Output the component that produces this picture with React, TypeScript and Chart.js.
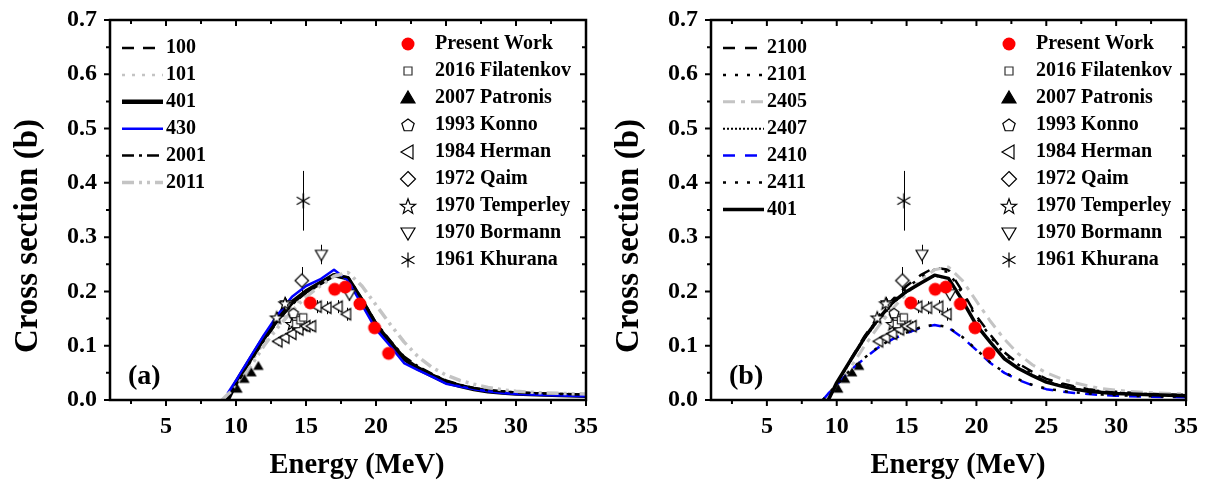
import React, { useEffect, useRef } from 'react';
import { Chart, registerables } from 'chart.js';

Chart.register(...registerables);

const FONT = "'Liberation Serif', 'Times New Roman', Times, serif";

// ---------- axes ----------
const xMajorTicks = [5, 10, 15, 20, 25, 30, 35];
const xMinorTicks = [2.5, 7.5, 12.5, 17.5, 22.5, 27.5, 32.5];
const yMajorTicks = [0, 0.1, 0.2, 0.3, 0.4, 0.5, 0.6, 0.7];
const yMinorTicks = [0.05, 0.15, 0.25, 0.35, 0.45, 0.55, 0.65];
const xTitle = 'Energy (MeV)';
const yTitle = 'Cross section (b)';

// ---------- model curves ----------
const energyGrid = [9.0, 9.4, 10, 11, 12, 13, 14, 15, 16, 17, 18, 19, 20, 21, 22, 23, 24, 25, 26, 27, 28, 29, 30, 32, 35];

// panel (a)
const curve100 = [null, 0.0, 0.03, 0.072, 0.112, 0.148, 0.178, 0.2, 0.215, 0.228, 0.225, 0.185, 0.14, 0.108, 0.078, 0.06, 0.047, 0.035, 0.027, 0.021, 0.017, 0.015, 0.013, 0.011, 0.009];
const curve101 = [null, 0.0, 0.026, 0.066, 0.105, 0.14, 0.17, 0.195, 0.212, 0.228, 0.226, 0.186, 0.14, 0.108, 0.078, 0.06, 0.047, 0.035, 0.028, 0.022, 0.018, 0.015, 0.013, 0.011, 0.01];
const curve401 = [null, 0.0, 0.032, 0.074, 0.115, 0.15, 0.18, 0.2, 0.215, 0.23, 0.224, 0.183, 0.138, 0.106, 0.076, 0.058, 0.045, 0.033, 0.026, 0.02, 0.016, 0.014, 0.012, 0.01, 0.008];
const curve430 = [null, 0.012, 0.036, 0.078, 0.12, 0.158, 0.19, 0.21, 0.222, 0.24, 0.22, 0.175, 0.13, 0.1, 0.068, 0.055, 0.043, 0.03, 0.025, 0.02, 0.016, 0.013, 0.011, 0.009, 0.007];
const curve2001 = [null, 0.0, 0.028, 0.07, 0.11, 0.146, 0.176, 0.198, 0.214, 0.23, 0.226, 0.186, 0.142, 0.11, 0.08, 0.062, 0.048, 0.036, 0.028, 0.022, 0.018, 0.016, 0.014, 0.012, 0.01];
const curve2011 = [0.0, 0.01, 0.024, 0.06, 0.1, 0.134, 0.164, 0.19, 0.21, 0.228, 0.235, 0.21, 0.175, 0.14, 0.107, 0.08, 0.06, 0.046, 0.036, 0.029, 0.023, 0.019, 0.016, 0.013, 0.011];

// panel (b)
const curve2100 = [null, 0.002, 0.03, 0.075, 0.118, 0.155, 0.185, 0.21, 0.23, 0.244, 0.24, 0.2, 0.155, 0.12, 0.088, 0.067, 0.052, 0.039, 0.031, 0.025, 0.02, 0.017, 0.015, 0.012, 0.009];
const curve2101 = [null, 0.002, 0.03, 0.074, 0.116, 0.152, 0.182, 0.206, 0.226, 0.24, 0.236, 0.196, 0.152, 0.117, 0.085, 0.065, 0.05, 0.038, 0.03, 0.024, 0.019, 0.016, 0.014, 0.011, 0.009];
const curve2405 = [0.0, 0.006, 0.022, 0.06, 0.1, 0.136, 0.168, 0.196, 0.22, 0.24, 0.245, 0.22, 0.182, 0.145, 0.112, 0.085, 0.065, 0.05, 0.04, 0.032, 0.026, 0.021, 0.018, 0.014, 0.011];
const curve2407 = [null, 0.001, 0.03, 0.072, 0.113, 0.148, 0.178, 0.199, 0.215, 0.229, 0.224, 0.184, 0.139, 0.107, 0.077, 0.059, 0.046, 0.034, 0.027, 0.021, 0.017, 0.015, 0.013, 0.01, 0.008];
const curve2410 = [0.0, 0.012, 0.028, 0.055, 0.077, 0.097, 0.112, 0.123, 0.133, 0.138, 0.133, 0.115, 0.092, 0.068, 0.05, 0.037, 0.027, 0.02, 0.016, 0.013, 0.011, 0.009, 0.008, 0.006, 0.005];
const curve2411 = [0.0, 0.012, 0.028, 0.056, 0.078, 0.098, 0.113, 0.124, 0.134, 0.139, 0.134, 0.116, 0.093, 0.069, 0.051, 0.038, 0.028, 0.021, 0.017, 0.014, 0.012, 0.01, 0.009, 0.007, 0.006];

// ---------- experimental data ----------
const presentE = [15.3, 17.05, 17.8, 18.85, 19.9, 20.9];
const presentS = [0.179, 0.204, 0.208, 0.177, 0.133, 0.086];
const presentErr = [0.009, 0.009, 0.009, 0.008, 0.007, 0.005];

const filatenkovE = [14.3, 14.6, 14.8];
const filatenkovS = [0.14, 0.147, 0.152];

const patronisE = [10.1, 10.6, 11.1, 11.6];
const patronisS = [0.02, 0.038, 0.05, 0.062];

const konnoE = [14.1];
const konnoS = [0.16];

const hermanE = [13.0, 13.5, 14.0, 14.5, 15.0, 15.4, 15.8, 16.5, 17.3, 17.9];
const hermanS = [0.108, 0.115, 0.122, 0.13, 0.136, 0.136, 0.172, 0.17, 0.172, 0.158];
const hermanErr = [0.008, 0.008, 0.008, 0.009, 0.009, 0.009, 0.012, 0.012, 0.012, 0.012];

const qaimE = [14.7];
const qaimS = [0.22];
const qaimErr = [0.025];

const temperleyE = [12.9, 13.5, 14.0, 14.4, 14.8];
const temperleyS = [0.152, 0.178, 0.14, 0.133, 0.138];
const temperleyErr = [0.01, 0.012, 0.01, 0.01, 0.01];

const bormannE = [13.6, 14.2, 16.1, 18.1];
const bormannS = [0.175, 0.15, 0.268, 0.195];
const bormannErr = [0.012, 0.01, 0.018, 0.012];

const khuranaE = [14.8];
const khuranaS = [0.367];
const khuranaErr = [0.055];

type Sym = 'circle' | 'square' | 'triUp' | 'pentagon' | 'triLeft' | 'diamond' | 'star' | 'triDown' | 'asterisk';

function makeSymbol(kind: Sym, k: number): HTMLCanvasElement {
  const size = 20;
  const c = document.createElement('canvas');
  c.width = size;
  c.height = size;
  const g = c.getContext('2d')!;
  const m = size / 2;
  g.lineWidth = 1.2;
  g.strokeStyle = '#000';
  g.fillStyle = '#fff';
  const poly = (pts: number[][]) => {
    g.beginPath();
    pts.forEach(([px, py], i) => (i ? g.lineTo(m + px * k, m + py * k) : g.moveTo(m + px * k, m + py * k)));
    g.closePath();
  };
  switch (kind) {
    case 'circle':
      g.beginPath();
      g.arc(m, m, 6.5 * k, 0, Math.PI * 2);
      g.fillStyle = '#ff0000';
      g.fill();
      break;
    case 'square':
      poly([[-4, -4], [4, -4], [4, 4], [-4, 4]]);
      g.fill();
      g.strokeStyle = '#333';
      g.stroke();
      break;
    case 'triUp':
      poly([[0, -7], [7, 5], [-7, 5]]);
      g.fillStyle = '#000';
      g.fill();
      g.stroke();
      break;
    case 'pentagon': {
      const pts: number[][] = [];
      for (let i = 0; i < 5; i++) {
        const a = -Math.PI / 2 + (i * 2 * Math.PI) / 5;
        pts.push([6.5 * Math.cos(a), 6.5 * Math.sin(a) + 0.5]);
      }
      poly(pts);
      g.fill();
      g.stroke();
      break;
    }
    case 'triLeft':
      poly([[-7, 0], [5, -7], [5, 7]]);
      g.fill();
      g.stroke();
      break;
    case 'diamond':
      poly([[0, -7.5], [7.5, 0], [0, 7.5], [-7.5, 0]]);
      g.fill();
      g.stroke();
      break;
    case 'star': {
      const pts: number[][] = [];
      for (let i = 0; i < 10; i++) {
        const a = -Math.PI / 2 + (i * Math.PI) / 5;
        const r = i % 2 === 0 ? 8 : 3.3;
        pts.push([r * Math.cos(a), r * Math.sin(a) + 0.8]);
      }
      poly(pts);
      g.fill();
      g.stroke();
      break;
    }
    case 'triDown':
      poly([[-7, -5], [7, -5], [0, 7]]);
      g.fill();
      g.stroke();
      break;
    case 'asterisk':
      g.beginPath();
      for (let i = 0; i < 3; i++) {
        const a = Math.PI / 2 + (i * Math.PI) / 3;
        g.moveTo(m + 7.5 * k * Math.cos(a), m + 7.5 * k * Math.sin(a));
        g.lineTo(m - 7.5 * k * Math.cos(a), m - 7.5 * k * Math.sin(a));
      }
      g.stroke();
      break;
  }
  return c;
}

const toPoints = (xs: number[], ys: (number | null)[]) =>
  xs.map((x, i) => ({ x, y: ys[i] })).filter((p) => p.y !== null) as { x: number; y: number }[];

function lineSet(label: string, values: (number | null)[], color: string, width: number, dash: number[], order: number) {
  return {
    label,
    data: toPoints(energyGrid, values),
    showLine: true,
    borderColor: color,
    backgroundColor: color,
    borderWidth: width,
    borderDash: dash,
    borderJoinStyle: 'round',
    pointRadius: 0,
    tension: 0,
    order,
    legendKind: 'line',
  };
}

function pointSet(label: string, xs: number[], ys: number[], kind: Sym, plotScale: number, errors?: number[], errColor = '#000') {
  return {
    label,
    data: toPoints(xs, ys),
    showLine: false,
    pointStyle: makeSymbol(kind, plotScale),
    legendSymbol: makeSymbol(kind, 1),
    pointRadius: 7,
    order: 0,
    errors,
    errColor,
    legendKind: 'symbol',
  };
}

const decorPlugin = {
  id: 'panelDecor',
  beforeDatasetsDraw(chart: any) {
    const { ctx } = chart;
    const xs = chart.scales.x;
    const ys = chart.scales.y;
    ctx.save();
    ctx.lineWidth = 1;
    chart.data.datasets.forEach((d: any) => {
      if (!d.errors) return;
      ctx.strokeStyle = d.errColor;
      d.data.forEach((p: any, j: number) => {
        const e = d.errors[j];
        if (!e) return;
        const px = Math.round(xs.getPixelForValue(p.x)) + 0.5;
        ctx.beginPath();
        ctx.moveTo(px, ys.getPixelForValue(p.y - e));
        ctx.lineTo(px, ys.getPixelForValue(p.y + e));
        ctx.stroke();
      });
    });
    ctx.restore();
  },
  afterDraw(chart: any, _args: any, opts: any) {
    const { ctx, chartArea: a } = chart;
    const xs = chart.scales.x;
    const ys = chart.scales.y;
    ctx.save();
    ctx.setLineDash([]);
    ctx.strokeStyle = '#000';
    ctx.lineWidth = 2;
    const major = 6;
    const minor = 4;
    ctx.beginPath();
    xMajorTicks.forEach((v) => {
      const p = xs.getPixelForValue(v);
      ctx.moveTo(p, a.bottom);
      ctx.lineTo(p, a.bottom + major);
      ctx.moveTo(p, a.top);
      ctx.lineTo(p, a.top + major);
    });
    xMinorTicks.forEach((v) => {
      const p = xs.getPixelForValue(v);
      ctx.moveTo(p, a.bottom);
      ctx.lineTo(p, a.bottom + minor);
      ctx.moveTo(p, a.top);
      ctx.lineTo(p, a.top + minor);
    });
    yMajorTicks.forEach((v) => {
      const p = ys.getPixelForValue(v);
      ctx.moveTo(a.left, p);
      ctx.lineTo(a.left - major, p);
      ctx.moveTo(a.right, p);
      ctx.lineTo(a.right - major, p);
    });
    yMinorTicks.forEach((v) => {
      const p = ys.getPixelForValue(v);
      ctx.moveTo(a.left, p);
      ctx.lineTo(a.left - minor, p);
      ctx.moveTo(a.right, p);
      ctx.lineTo(a.right - minor, p);
    });
    ctx.stroke();
    ctx.lineWidth = 2.5;
    ctx.strokeRect(a.left, a.top, a.right - a.left, a.bottom - a.top);

    ctx.fillStyle = '#000';
    ctx.textAlign = 'center';
    ctx.textBaseline = 'middle';

    // axis titles
    ctx.font = `bold 28.5px ${FONT}`;
    ctx.fillText(xTitle, a.left + 247, 466);
    ctx.save();
    ctx.translate(a.left - 82, 236);
    ctx.rotate(-Math.PI / 2);
    ctx.font = `bold 33px ${FONT}`;
    ctx.fillText(yTitle, 0, 0);
    ctx.restore();

    // panel label
    ctx.textAlign = 'left';
    ctx.font = `bold 28px ${FONT}`;
    ctx.fillText(opts.label, a.left + 18, a.bottom - 23);

    // legends
    ctx.font = `bold 20px ${FONT}`;
    let li = 0;
    let si = 0;
    chart.data.datasets.forEach((d: any) => {
      if (d.legendKind === 'line') {
        const y = a.top + 28 + li * 26.9;
        li++;
        ctx.save();
        ctx.strokeStyle = d.borderColor;
        ctx.lineWidth = d.borderWidth;
        ctx.setLineDash(d.borderDash || []);
        ctx.beginPath();
        ctx.moveTo(a.left + 12, y);
        ctx.lineTo(a.left + 53, y);
        ctx.stroke();
        ctx.restore();
        ctx.fillText(d.label, a.left + 56, y);
      } else if (d.legendKind === 'symbol') {
        const y = a.top + 24 + si * 27;
        si++;
        const s = d.legendSymbol as HTMLCanvasElement;
        ctx.drawImage(s, a.left + 298 - s.width / 2, y - s.height / 2);
        ctx.fillText(d.label, a.left + 325, y);
      }
    });
    ctx.restore();
  },
};

function buildConfig(lines: any[], points: any[], label: string, axisLeft: number, rightPad: number) {
  return {
    type: 'scatter',
    data: { datasets: [...lines, ...points] },
    plugins: [decorPlugin],
    options: {
      animation: false,
      responsive: false,
      events: [],
      layout: { padding: { left: 0, top: 20, right: rightPad, bottom: 0 } },
      plugins: {
        legend: { display: false },
        tooltip: { enabled: false },
        panelDecor: { label },
      },
      scales: {
        x: {
          type: 'linear',
          min: 1,
          max: 35,
          grid: { display: false, drawTicks: false },
          border: { display: false },
          afterBuildTicks: (s: any) => {
            s.ticks = xMajorTicks.map((v) => ({ value: v }));
          },
          afterFit: (s: any) => {
            s.height = 84;
            s.paddingLeft = 0;
            s.paddingRight = 0;
          },
          ticks: {
            color: '#000',
            font: { family: FONT, size: 24, weight: 'bold' },
            padding: 12,
            maxRotation: 0,
            autoSkip: false,
          },
          title: { display: false },
        },
        y: {
          type: 'linear',
          min: 0,
          max: 0.7,
          grid: { display: false, drawTicks: false },
          border: { display: false },
          afterBuildTicks: (s: any) => {
            s.ticks = yMajorTicks.map((v) => ({ value: v }));
          },
          afterFit: (s: any) => {
            s.width = axisLeft;
            s.paddingTop = 0;
            s.paddingBottom = 0;
          },
          ticks: {
            color: '#000',
            font: { family: FONT, size: 24, weight: 'bold' },
            padding: 13,
            callback: (v: any) => Number(v).toFixed(1),
          },
          title: { display: false },
        },
      },
    },
  } as any;
}

function experimentalSets() {
  return [
    pointSet('Present Work', presentE, presentS, 'circle', 1, presentErr, '#ff0000'),
    pointSet('2016 Filatenkov', filatenkovE, filatenkovS, 'square', 0.9),
    pointSet('2007 Patronis', patronisE, patronisS, 'triUp', 0.6),
    pointSet('1993 Konno', konnoE, konnoS, 'pentagon', 0.8),
    pointSet('1984 Herman', hermanE, hermanS, 'triLeft', 0.8, hermanErr),
    pointSet('1972 Qaim', qaimE, qaimS, 'diamond', 0.9, qaimErr),
    pointSet('1970 Temperley', temperleyE, temperleyS, 'star', 0.8, temperleyErr),
    pointSet('1970 Bormann', bormannE, bormannS, 'triDown', 0.85, bormannErr),
    pointSet('1961 Khurana', khuranaE, khuranaS, 'asterisk', 1, khuranaErr),
  ];
}

const GRAY = '#c4c4c4';
const BLUE = '#0000ff';

function Panel({ which }: { which: 'a' | 'b' }) {
  const ref = useRef<HTMLCanvasElement | null>(null);
  useEffect(() => {
    if (!ref.current) return;
    let lines: any[];
    if (which === 'a') {
      lines = [
        lineSet('100', curve100, '#000', 2.5, [12, 9], 10),
        lineSet('101', curve101, GRAY, 2.5, [3, 7], 9),
        lineSet('401', curve401, '#000', 4.5, [], 8),
        lineSet('430', curve430, BLUE, 2.5, [], 7),
        lineSet('2001', curve2001, '#000', 2.5, [12, 5, 3, 5], 6),
        lineSet('2011', curve2011, GRAY, 3.5, [12, 5, 3, 5, 3, 5], 5),
      ];
    } else {
      lines = [
        lineSet('2100', curve2100, '#000', 2.5, [12, 10], 11),
        lineSet('2101', curve2101, '#000', 2.5, [3, 9], 10),
        lineSet('2405', curve2405, GRAY, 3, [12, 6, 4, 6], 9),
        lineSet('2407', curve2407, '#000', 2, [2, 2], 8),
        lineSet('2410', curve2410, BLUE, 2.5, [12, 10], 7),
        lineSet('2411', curve2411, '#000', 2.5, [3, 9], 6),
        lineSet('401', curve401, '#000', 3.5, [], 5),
      ];
    }
    const cfg =
      which === 'a'
        ? buildConfig(lines, experimentalSets(), '(a)', 110, 20)
        : buildConfig(lines, experimentalSets(), '(b)', 105, 26);
    const chart = new Chart(ref.current, cfg);
    return () => chart.destroy();
  }, [which]);
  return <canvas ref={ref} width={606} height={484} style={{ display: 'block', width: 606, height: 484 }} />;
}

export default function App() {
  useEffect(() => {
    document.body.style.margin = '0';
    document.body.style.background = '#fff';
  }, []);
  return (
    <div style={{ width: 1212, height: 484, display: 'flex', background: '#fff' }}>
      <Panel which="a" />
      <Panel which="b" />
    </div>
  );
}
